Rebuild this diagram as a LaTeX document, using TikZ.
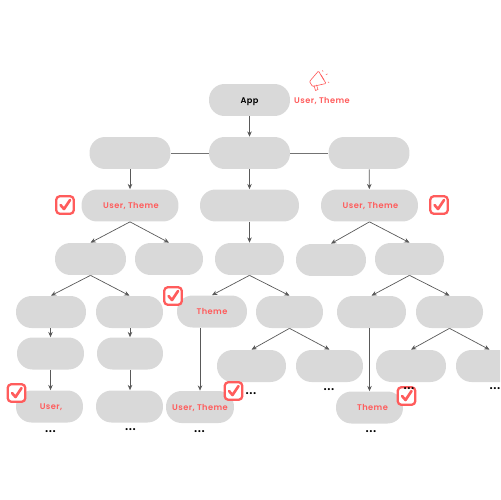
\documentclass[tikz,border=0pt]{standalone}
\usepackage{fontspec}
\setmainfont[LetterSpace=5,BoldFont={Poppins SemiBold}]{Poppins}
\usetikzlibrary{arrows.meta}
\definecolor{boxgray}{HTML}{D9D9D9}
\definecolor{redtext}{HTML}{FF5C5C}
\tikzset{
  label/.style={font=\fontsize{4.7}{6}\selectfont\bfseries,text=redtext,inner sep=0pt,text height=3.6pt,text depth=0pt},
  comp/.style={label,fill=boxgray,rounded corners=15.5*0.02cm,minimum height=0.64cm},
  flow/.style={draw=black!65,line width=0.4pt,-{Stealth[length=3pt,width=2.6pt]}},
  link/.style={draw=black!55,line width=0.55pt},
  dots/.style={font=\fontsize{7}{7}\selectfont\bfseries,inner sep=0pt},
  tickbox/.pic={
    \node[draw=redtext,fill=white,line width=1.3pt,rounded corners=2pt,minimum size=0.35cm,inner sep=0pt] (-box) at (0,0) {};
    \draw[redtext,line width=1.5pt,line cap=round,line join=round] (-4.5,0) -- (-1,4) -- (5,-5);
  }
}
\begin{document}
\begin{tikzpicture}[x=0.02cm,y=-0.02cm]
  \useasboundingbox (0,0) rectangle (500,500);
  \clip (0,0) rectangle (500,500);
  % top
  \node[comp,minimum width=1.62cm,text=black] (app) at (249.5,100) {App};
  \node[label] (provider) at (322,100) {User, Theme};
  \node[comp,minimum width=1.62cm] (left) at (130,153) {};
  \node[comp,minimum width=1.62cm] (mid) at (249.5,153) {};
  \node[comp,minimum width=1.62cm] (right) at (369,153) {};
  % third row
  \node[comp,minimum width=1.94cm] (leftA) at (130,205.5) {\hspace{0.04cm}User, Theme};
  \node[comp,minimum width=1.98cm] (midA) at (249.5,205.5) {};
  \node[comp,minimum width=1.94cm] (rightA) at (369.5,205.5) {\hspace{0.04cm}User, Theme};
  % fourth row
  \node[comp,minimum width=1.42cm] (la) at (90.5,259) {};
  \node[comp,minimum width=1.36cm] (lb) at (169,259) {};
  \node[comp,minimum width=1.38cm] (ma) at (249.5,259) {};
  \node[comp,minimum width=1.40cm] (ra) at (331,260) {};
  \node[comp,minimum width=1.38cm] (rb) at (409.5,259) {};
  % fifth row
  \node[comp,minimum width=1.40cm] (laa) at (51,312) {};
  \node[comp,minimum width=1.34cm] (lab) at (129.5,312) {};
  \node[comp,minimum width=1.40cm] (maa) at (212,311.5) {Theme\hspace{0.04cm}};
  \node[comp,minimum width=1.34cm] (mab) at (289.5,312) {};
  \node[comp,minimum width=1.38cm] (rba) at (371.5,312) {};
  \node[comp,minimum width=1.34cm] (rbb) at (449.5,312) {};
  % sixth row
  \node[comp,minimum width=1.34cm] (lac) at (50.5,353.5) {};
  \node[comp,minimum width=1.32cm] (lad) at (130,353.5) {};
  \node[comp,minimum width=1.38cm] (mac) at (251.5,366) {};
  \node[comp,minimum width=1.34cm] (mad) at (329.5,366) {};
  \node[comp,minimum width=1.40cm] (rbc) at (411,366) {};
  \node[comp,minimum width=1.34cm] (rbd) at (489.5,366) {};
  % last row
  \node[comp,minimum width=1.34cm] (lae) at (49.5,406.5) {\hspace{0.06cm}User,};
  \node[comp,minimum width=1.34cm] (laf) at (129.5,406.5) {};
  \node[comp,minimum width=1.36cm] (mae) at (200,407) {User, Theme};
  \node[comp,minimum width=1.34cm] (rbe) at (369.5,407.5) {\hspace{0.12cm}Theme};
  % connectors
  \draw[link] (left) -- (mid);
  \draw[link] (mid) -- (right);
  \draw[flow] (app) -- (mid);
  \draw[flow] (left) -- (leftA);
  \draw[flow] (mid) -- (midA);
  \draw[flow] (right) -- (rightA);
  \draw[flow] (leftA.south) -- (la.north);
  \draw[flow] (leftA.south) -- (lb.north);
  \draw[flow] (midA) -- (ma);
  \draw[flow] (rightA.south) -- (ra.north);
  \draw[flow] (rightA.south) -- (rb.north);
  \draw[flow] (la.south) -- (laa.north);
  \draw[flow] (la.south) -- (lab.north);
  \draw[flow] (ma.south) -- (maa.north);
  \draw[flow] (ma.south) -- (mab.north);
  \draw[flow] (rb.south) -- (rba.north);
  \draw[flow] (rb.south) -- (rbb.north);
  \draw[flow] (lac.north |- laa.south) -- (lac.north);
  \draw[flow] (lad.north |- lab.south) -- (lad.north);
  \draw[flow] (lac.south) -- (lac.south |- lae.north);
  \draw[flow] (lad.south) -- (lad.south |- laf.north);
  \draw[flow] (mae.north |- maa.south) -- (mae.north);
  \draw[flow] (rbe.north |- rba.south) -- (rbe.north);
  \draw[flow] (mab.south) -- (mac.north);
  \draw[flow] (mab.south) -- (mad.north);
  \draw[flow] (rbb.south) -- (rbc.north);
  \draw[flow] (rbb.south) -- (rbd.north);
  % dots
  \node[dots] (d1) at (50.5,431.5) {...};
  \node[dots] (d2) at (130.5,430) {...};
  \node[dots] (d3) at (199.5,432) {...};
  \node[dots] (d4) at (251,394) {...};
  \node[dots] (d5) at (329,390) {...};
  \node[dots] (d6) at (371,432) {...};
  \node[dots] (d7) at (495,389) {...};
  % checks
  \pic (c1) at (65,205) {tickbox};
  \pic (c2) at (439,205) {tickbox};
  \pic (c3) at (173,296) {tickbox};
  \pic (c4) at (16.5,393) {tickbox};
  \pic (c5) at (233.5,391) {tickbox};
  \pic (c6) at (406.5,396) {tickbox};
  \node[dots] (d8) at (409,388.5) {...};
  % megaphone
  \begin{scope}[redtext,line width=0.35pt,line join=round,line cap=round]
    \draw[rounded corners=0.5pt] (318.5,71) -- (326,83.5) -- (312.5,86.5) -- (309.5,81.5) -- cycle;
    \draw (314,85.5) -- (315.5,90.5) -- (318,89.5) -- (316.5,85);
    \draw (322.5,70.5) -- (323,71.5) (326,74.5) -- (327.5,74) (328,82) -- (329,82.5) (321,75) -- (324,80);
  \end{scope}
\end{tikzpicture}
\end{document}
